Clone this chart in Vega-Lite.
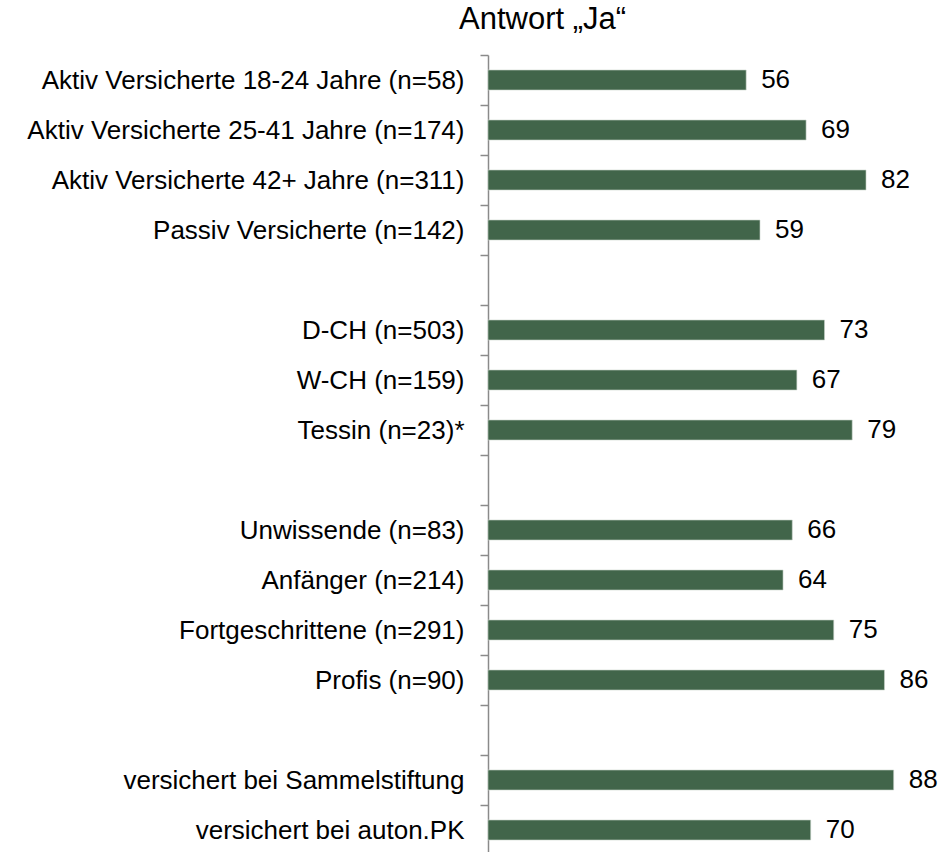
{
  "$schema": "https://vega.github.io/schema/vega-lite/v6.json",
  "autosize": "none",
  "padding": {"left": 488, "top": 55, "right": 1, "bottom": 0},
  "width": 461,
  "height": 800,
  "title": {
    "text": "Antwort „Ja“",
    "anchor": "start",
    "frame": "group",
    "dx": -29,
    "offset": 6,
    "font": "Liberation Sans",
    "fontSize": 31,
    "fontWeight": "normal",
    "color": "#000000"
  },
  "config": {"view": {"stroke": null}},
  "data": {
    "values": [
      {"group": "Aktiv Versicherte 18-24 Jahre (n=58)", "value": 56},
      {"group": "Aktiv Versicherte 25-41 Jahre (n=174)", "value": 69},
      {"group": "Aktiv Versicherte 42+ Jahre (n=311)", "value": 82},
      {"group": "Passiv Versicherte (n=142)", "value": 59},
      {"group": "D-CH (n=503)", "value": 73},
      {"group": "W-CH (n=159)", "value": 67},
      {"group": "Tessin (n=23)*", "value": 79},
      {"group": "Unwissende (n=83)", "value": 66},
      {"group": "Anfänger (n=214)", "value": 64},
      {"group": "Fortgeschrittene (n=291)", "value": 75},
      {"group": "Profis (n=90)", "value": 86},
      {"group": "versichert bei Sammelstiftung", "value": 88},
      {"group": "versichert bei auton.PK", "value": 70}
    ]
  },
  "encoding": {
    "y": {
      "field": "group",
      "type": "nominal",
      "scale": {
        "domain": [
          "Aktiv Versicherte 18-24 Jahre (n=58)",
          "Aktiv Versicherte 25-41 Jahre (n=174)",
          "Aktiv Versicherte 42+ Jahre (n=311)",
          "Passiv Versicherte (n=142)",
          " ",
          "D-CH (n=503)",
          "W-CH (n=159)",
          "Tessin (n=23)*",
          "  ",
          "Unwissende (n=83)",
          "Anfänger (n=214)",
          "Fortgeschrittene (n=291)",
          "Profis (n=90)",
          "   ",
          "versichert bei Sammelstiftung",
          "versichert bei auton.PK"
        ],
        "paddingInner": 0,
        "paddingOuter": 0
      },
      "axis": {
        "title": null,
        "orient": "left",
        "tickBand": "extent",
        "tickSize": 8,
        "tickColor": "#8a8a8a",
        "tickWidth": 1.5,
        "domainColor": "#8a8a8a",
        "domainWidth": 1.5,
        "labelFont": "Liberation Sans",
        "labelFontSize": 26,
        "labelColor": "#000000",
        "labelPadding": 16,
        "labelLimit": 700
      }
    },
    "x": {
      "field": "value",
      "type": "quantitative",
      "scale": {"domain": [0, 100], "nice": false, "zero": true},
      "axis": null
    }
  },
  "layer": [
    {
      "mark": {"type": "bar", "size": 20, "color": "#41654a", "stroke": "#c9d3cb", "strokeWidth": 0.6}
    },
    {
      "mark": {
        "type": "text",
        "align": "left",
        "baseline": "middle",
        "dx": 15,
        "font": "Liberation Sans",
        "fontSize": 26,
        "color": "#000000"
      },
      "encoding": {"text": {"field": "value", "type": "quantitative"}}
    }
  ]
}
